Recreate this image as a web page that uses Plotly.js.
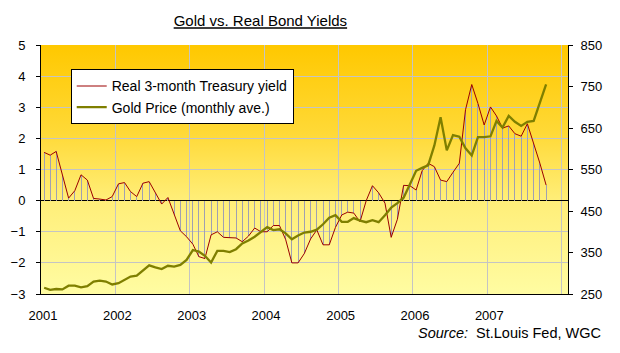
<!DOCTYPE html>
<html>
<head>
<meta charset="utf-8">
<script src="https://cdn.plot.ly/plotly-3.0.1.min.js"></script>
<style>html,body{margin:0;padding:0;background:#fff;}#chart{width:620px;height:353px;}</style>
</head>
<body>
<div id="chart"></div>
<script>
// Months (Jan 2001 - Oct 2007)
const months = [
  '2001-01','2001-02','2001-03','2001-04','2001-05','2001-06','2001-07','2001-08','2001-09','2001-10','2001-11','2001-12',
  '2002-01','2002-02','2002-03','2002-04','2002-05','2002-06','2002-07','2002-08','2002-09','2002-10','2002-11','2002-12',
  '2003-01','2003-02','2003-03','2003-04','2003-05','2003-06','2003-07','2003-08','2003-09','2003-10','2003-11','2003-12',
  '2004-01','2004-02','2004-03','2004-04','2004-05','2004-06','2004-07','2004-08','2004-09','2004-10','2004-11','2004-12',
  '2005-01','2005-02','2005-03','2005-04','2005-05','2005-06','2005-07','2005-08','2005-09','2005-10','2005-11','2005-12',
  '2006-01','2006-02','2006-03','2006-04','2006-05','2006-06','2006-07','2006-08','2006-09','2006-10','2006-11','2006-12',
  '2007-01','2007-02','2007-03','2007-04','2007-05','2007-06','2007-07','2007-08','2007-09','2007-10'
];

// Real 3-month Treasury yield (%)
const realYield = [
  1.55, 1.46, 1.58, 0.80, 0.08, 0.32, 0.83, 0.66, 0.07, 0.05, 0.02, 0.13,
  0.54, 0.58, 0.29, 0.13, 0.56, 0.61, 0.24, -0.11, 0.10, -0.45, -0.97, -1.16,
  -1.40, -1.80, -1.86, -1.10, -1.00, -1.18, -1.20, -1.20, -1.32, -1.14, -0.88, -1.00,
  -1.00, -0.80, -0.80, -1.25, -2.00, -2.00, -1.70, -1.23, -0.94, -1.42, -1.42, -0.86,
  -0.46, -0.37, -0.40, -0.68, 0.00, 0.48, 0.25, -0.08, -1.18, -0.60, 0.49, 0.48,
  0.34, 0.96, 1.20, 1.09, 0.66, 0.61, 0.91, 1.20, 2.92, 3.73, 3.12, 2.43,
  3.01, 2.72, 2.33, 2.40, 2.15, 2.07, 2.47, 1.86, 1.20, 0.50
];

// Gold price, monthly average (US$/oz)
const goldPrice = [
  265, 260, 262, 261, 270, 270, 266, 269, 280, 282, 280, 273,
  276, 284, 292, 294, 306, 319, 314, 310, 318, 316, 320, 332,
  356, 352, 342, 326, 354, 354, 351, 358, 372, 379, 388, 400,
  411, 404, 406, 396, 382, 391, 398, 400, 405, 418, 434, 440,
  424, 424, 433, 427, 423, 428, 423, 440, 458, 469, 482, 514,
  547, 554, 560, 608, 676, 596, 633, 629, 601, 584, 628, 628,
  630, 667, 651, 679, 665, 655, 665, 667, 711, 755
];

// Axis ticks / labels
const yearTicks = ['2001-01-01','2002-01-01','2003-01-01','2004-01-01','2005-01-01','2006-01-01','2007-01-01','2008-01-01'];
const yearLabels = ['2001','2002','2003','2004','2005','2006','2007',''];
const leftTicks = [-3, -2, -1, 0, 1, 2, 3, 4, 5];
const rightTicks = [250, 350, 450, 550, 650, 750, 850];

const FONT = 'Arial, "Liberation Sans", sans-serif';

const gradSvg = '<svg xmlns="http://www.w3.org/2000/svg" width="10" height="100" viewBox="0 0 10 100" preserveAspectRatio="none">' +
  '<defs><linearGradient id="g" x1="0" y1="0" x2="0" y2="1">' +
  '<stop offset="0" stop-color="#FFC800"/>' +
  '<stop offset="0.35" stop-color="#FFD936"/>' +
  '<stop offset="0.62" stop-color="#FFEE78"/>' +
  '<stop offset="1" stop-color="#FFFCA2"/>' +
  '</linearGradient></defs><rect x="0" y="0" width="10" height="100" fill="url(#g)"/></svg>';
const gradUri = 'data:image/svg+xml;charset=utf-8,' + encodeURIComponent(gradSvg);

const traces = [
  {
    type: 'bar', x: months, y: realYield,
    xperiod: 'M1', xperiodalignment: 'middle',
    width: 4.3e8,
    marker: {color: '#a0a0b2', line: {width: 0}},
    showlegend: false, hoverinfo: 'skip'
  },
  {
    type: 'scatter', mode: 'lines', x: months, y: realYield,
    xperiod: 'M1', xperiodalignment: 'middle',
    name: 'Real 3-month Treasury yield',
    line: {color: '#9b0000', width: 1},
    legendgroup: 'a'
  },
  {
    type: 'scatter', mode: 'lines', x: months, y: goldPrice,
    xperiod: 'M1', xperiodalignment: 'middle',
    yaxis: 'y2',
    name: 'Gold Price (monthly ave.)',
    line: {color: '#7f7f00', width: 2.3},
    legendgroup: 'b'
  }
];

const layout = {
  width: 620, height: 353,
  margin: {l: 41, r: 52, t: 45, b: 59, pad: 0},
  paper_bgcolor: '#ffffff',
  plot_bgcolor: 'rgba(0,0,0,0)',
  font: {family: FONT, size: 13, color: '#000'},
  showlegend: true,
  bargap: 0,
  title: {
    text: '<u>Gold vs. Real Bond Yields</u>',
    font: {family: FONT, size: 15, color: '#000'},
    xref: 'container', x: 0.42, xanchor: 'center',
    yref: 'container', y: 1 - 21/353, yanchor: 'middle'
  },
  xaxis: {
    type: 'date',
    range: ['2001-01-01', '2008-02-01'],
    tickmode: 'array', tickvals: yearTicks, ticktext: yearLabels,
    showgrid: true, gridcolor: '#c4c4c4', gridwidth: 1,
    showline: true, linecolor: '#000', linewidth: 1,
    ticks: 'outside', ticklen: 9, tickcolor: 'rgba(0,0,0,0)',
    ticklabelshift: 2,
    tickfont: {family: FONT, size: 13, color: '#000'},
    zeroline: false, fixedrange: true
  },
  yaxis: {
    range: [-3, 5],
    tickmode: 'array', tickvals: leftTicks,
    showgrid: true, gridcolor: '#c4c4c4', gridwidth: 1,
    zeroline: true, zerolinecolor: '#000', zerolinewidth: 1,
    showline: true, linecolor: '#000', linewidth: 1,
    ticks: 'outside', ticklen: 4, tickcolor: '#000',
    ticklabelstandoff: 8,
    tickfont: {family: FONT, size: 13, color: '#000'},
    fixedrange: true
  },
  yaxis2: {
    range: [250, 850],
    overlaying: 'y', side: 'right',
    tickmode: 'array', tickvals: rightTicks,
    showgrid: false, zeroline: false,
    showline: true, linecolor: '#000', linewidth: 1,
    ticks: 'outside', ticklen: 4, tickcolor: '#000',
    ticklabelstandoff: 5,
    tickfont: {family: FONT, size: 13, color: '#000'},
    fixedrange: true
  },
  legend: {
    x: 0.0564, y: 0.902, xanchor: 'left', yanchor: 'top',
    bgcolor: '#ffffff', bordercolor: '#000', borderwidth: 1,
    font: {family: FONT, size: 14, color: '#000'},
    traceorder: 'grouped', tracegroupgap: 0
  },
  images: [{
    source: gradUri, xref: 'paper', yref: 'paper',
    x: 0, y: 1, sizex: 1, sizey: 1, xanchor: 'left', yanchor: 'top',
    sizing: 'stretch', layer: 'below'
  }],
  annotations: [{
    xref: 'paper', yref: 'paper',
    x: (603 - 41) / 527, y: (294 - 333) / 249,
    xanchor: 'right', yanchor: 'middle', showarrow: false,
    text: '<i>Source:</i>\u00A0\u00A0St.Louis Fed, WGC',
    font: {family: FONT, size: 14.5, color: '#000'}
  }]
};

Plotly.newPlot('chart', traces, layout, {displayModeBar: false, staticPlot: true});
</script>
</body>
</html>
